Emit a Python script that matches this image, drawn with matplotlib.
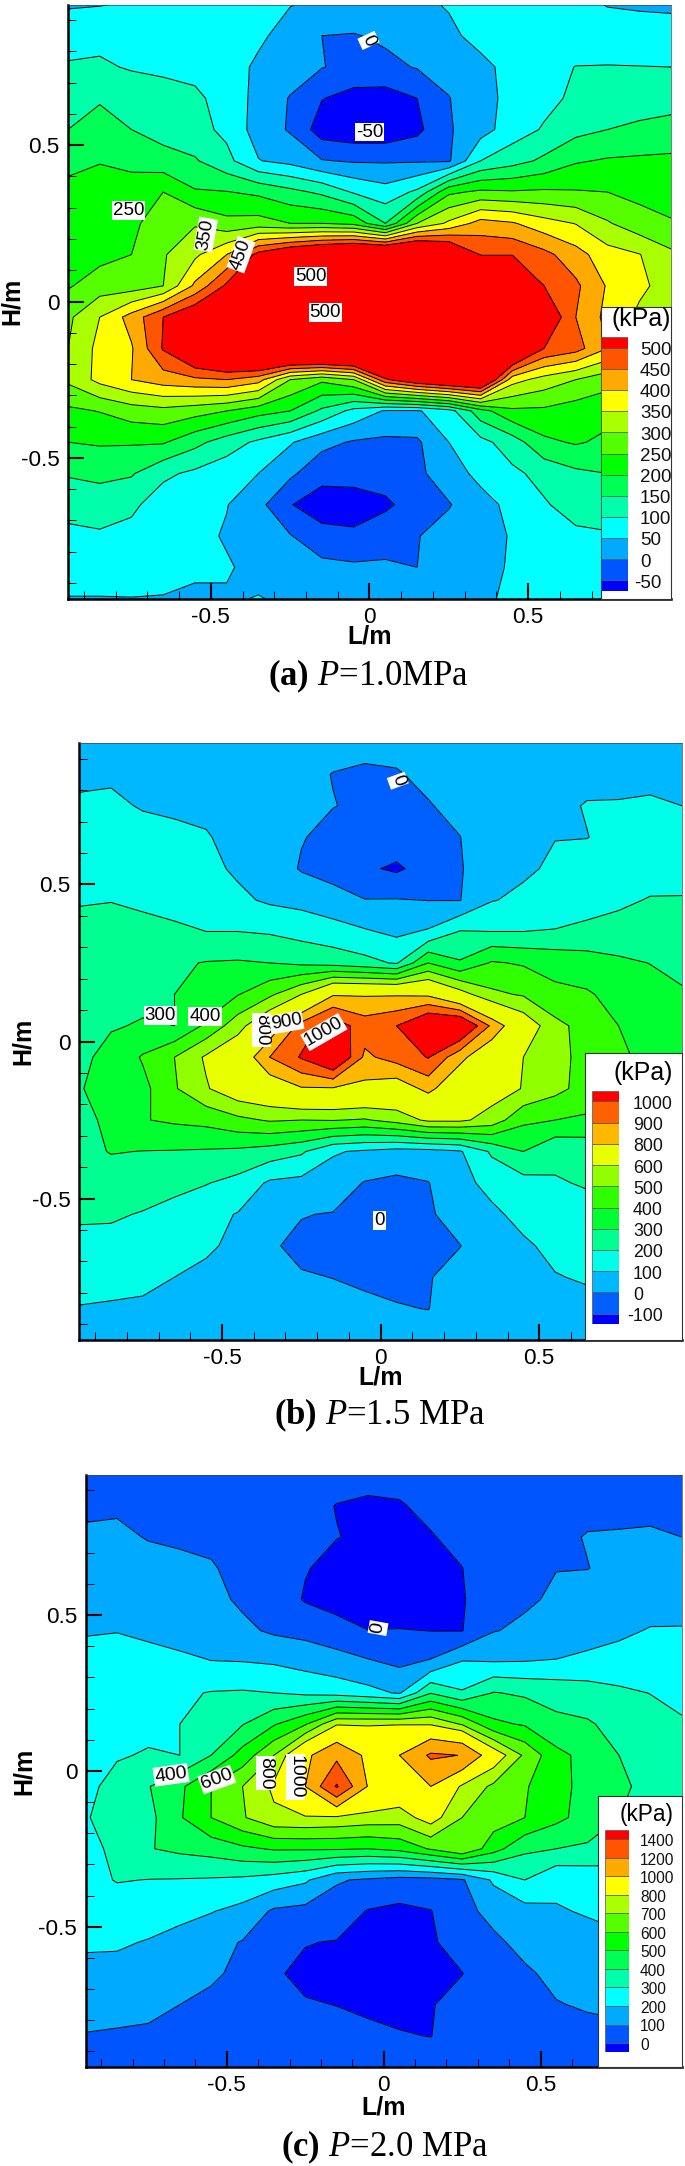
import numpy as np
import matplotlib
matplotlib.use('Agg')
import matplotlib.pyplot as plt

plt.rcParams['font.family'] = ['Liberation Sans', 'DejaVu Sans']
plt.rcParams['mathtext.fontset'] = 'custom'
plt.rcParams['mathtext.rm'] = 'Liberation Serif'
plt.rcParams['mathtext.it'] = 'Liberation Serif:italic'
plt.rcParams['mathtext.bf'] = 'Liberation Serif:bold'
plt.rcParams['contour.negative_linestyle'] = 'solid'

l_nodes = [-.95, -.85, -.75, -.65, -.55, -.45, -.35, -.25, -.15, -.05,
           .05, .15, .25, .35, .45, .55, .65, .75, .85, .95]
h_nodes = [.95, .85, .75, .65, .55, .45, .35, .25, .15, .05,
           -.05, -.15, -.25, -.35, -.45, -.55, -.65, -.75, -.85, -.95]

pressure_a = [
    [45, 48, 55, 62, 68, 70, 68, 52, 40, 35, 35, 42, 53, 60, 68, 72, 62, 48, 44, 42],
    [80, 85, 78, 72, 70, 72, 60, 28, 0, -3, 8, 25, 42, 62, 72, 75, 72, 72, 72, 70],
    [105, 108, 95, 88, 85, 75, 40, 25, 2, -15, -12, 3, 20, 40, 62, 85, 101, 102, 101, 100],
    [135, 145, 135, 125, 110, 80, 35, -3, -48, -68, -72, -50, -2, 38, 60, 85, 110, 120, 125, 130],
    [150, 170, 150, 130, 118, 88, 28, -5, -75, -85, -85, -62, -5, 30, 75, 105, 135, 150, 160, 168],
    [185, 197, 180, 170, 155, 115, 52, 35, 3, -5, -5, -5, -6, 100, 130, 160, 195, 205, 208, 210],
    [215, 225, 235, 250, 205, 202, 190, 165, 140, 95, 70, 110, 240, 260, 255, 258, 254, 250, 237, 225],
    [225, 235, 248, 255, 295, 265, 270, 250, 250, 235, 150, 300, 360, 420, 405, 370, 348, 305, 270, 255],
    [225, 235, 250, 295, 340, 400, 520, 580, 620, 650, 650, 660, 600, 497, 498, 465, 420, 370, 352, 310],
    [245, 275, 275, 300, 410, 510, 580, 650, 700, 720, 720, 720, 700, 650, 600, 500, 460, 395, 360, 330],
    [290, 350, 420, 500, 560, 620, 680, 720, 740, 760, 760, 760, 740, 700, 650, 560, 450, 385, 340, 310],
    [300, 365, 395, 505, 600, 660, 700, 730, 750, 760, 760, 760, 740, 700, 650, 500, 470, 400, 350, 310],
    [310, 365, 400, 425, 440, 450, 420, 300, 260, 300, 490, 560, 600, 620, 370, 330, 300, 270, 250, 240],
    [240, 252, 275, 285, 270, 250, 220, 200, 140, 85, 45, 45, 80, 180, 240, 240, 225, 215, 215, 215],
    [200, 205, 205, 205, 165, 125, 90, 55, 15, -5, -10, -8, 50, 85, 125, 190, 205, 190, 185, 185],
    [155, 165, 155, 110, 90, 70, 50, 10, -35, -30, -25, -10, 25, 65, 90, 115, 140, 150, 150, 150],
    [115, 118, 110, 75, 60, 52, 15, -48, -72, -75, -60, -25, -3, 30, 65, 95, 120, 125, 125, 125],
    [90, 95, 85, 75, 65, 45, 25, 3, -35, -40, -15, -2, 18, 40, 52, 75, 90, 95, 95, 95],
    [75, 75, 72, 65, 55, 55, 35, 20, 15, 8, 5, 0, 15, 35, 55, 65, 70, 70, 70, 70],
    [48, 48, 49, 48, 45, 45, 52, 42, 30, 28, 30, 30, 35, 45, 55, 55, 55, 55, 55, 55],
]
pressure_b = [
    [60, 60, 58, 55, 55, 52, 48, 40, 25, 15, 20, 30, 38, 45, 52, 58, 62, 62, 62, 62],
    [80, 85, 75, 70, 65, 55, 40, 20, -2, -8, -5, 15, 35, 45, 55, 65, 75, 80, 85, 80],
    [115, 120, 92, 82, 85, 75, 40, 20, 2, -12, -15, -4, 18, 42, 60, 80, 105, 105, 108, 100],
    [145, 150, 140, 125, 105, 78, 45, 5, -25, -40, -45, -40, -1, 40, 70, 98, 98, 125, 130, 135],
    [165, 170, 160, 145, 125, 85, 55, -8, -40, -85, -115, -60, -5, 40, 85, 115, 145, 160, 165, 170],
    [195, 198, 185, 170, 150, 120, 85, 70, 40, 3, 5, -2, -3, 95, 120, 145, 165, 185, 205, 205],
    [220, 225, 225, 215, 200, 200, 190, 165, 140, 110, 80, 110, 205, 200, 200, 205, 220, 230, 250, 250],
    [250, 265, 280, 285, 305, 310, 300, 280, 260, 230, 190, 400, 310, 410, 390, 370, 350, 320, 298, 275],
    [260, 270, 285, 300, 320, 395, 480, 600, 790, 790, 790, 780, 650, 520, 490, 420, 410, 370, 340, 310],
    [280, 295, 305, 300, 420, 560, 720, 940, 1060, 950, 1000, 1150, 1150, 880, 680, 530, 460, 400, 360, 320],
    [285, 320, 410, 500, 615, 700, 900, 1010, 1150, 880, 940, 1005, 830, 700, 600, 530, 470, 420, 370, 330],
    [295, 330, 370, 490, 590, 680, 720, 790, 790, 770, 730, 830, 700, 650, 595, 530, 460, 400, 350, 310],
    [280, 315, 395, 415, 430, 475, 510, 500, 505, 490, 540, 620, 620, 560, 420, 400, 385, 370, 340, 300],
    [270, 305, 298, 295, 290, 280, 255, 215, 110, 85, 60, 65, 90, 215, 300, 215, 230, 240, 250, 250],
    [245, 250, 240, 225, 205, 170, 85, 70, 50, -5, -20, -3, 70, 130, 165, 195, 205, 215, 225, 225],
    [215, 210, 195, 170, 130, 95, 60, 3, -4, -1, -10, -12, 40, 80, 130, 160, 180, 190, 195, 195],
    [170, 175, 165, 135, 110, 85, 8, -15, -15, -20, -20, -12, -2, 50, 85, 125, 160, 170, 170, 170],
    [140, 145, 130, 100, 85, 65, 35, 5, -1, -8, -12, -5, 30, 50, 75, 95, 110, 120, 120, 120],
    [95, 85, 80, 72, 65, 55, 40, 25, 20, 10, 3, -1, 25, 40, 55, 65, 70, 75, 75, 75],
    [70, 68, 65, 60, 55, 50, 45, 40, 35, 30, 28, 25, 30, 40, 48, 52, 55, 58, 60, 60],
]
pressure_c = [
    [62, 60, 58, 56, 55, 52, 48, 40, 25, 16, 20, 30, 38, 46, 52, 58, 62, 64, 62, 62],
    [82, 85, 76, 70, 65, 55, 42, 20, -2, -8, -5, 15, 34, 46, 56, 66, 76, 82, 85, 80],
    [116, 122, 94, 84, 85, 75, 42, 20, 2, -12, -15, -4, 18, 42, 60, 80, 105, 106, 108, 100],
    [145, 150, 140, 125, 106, 78, 45, 5, -25, -40, -45, -40, -1, 40, 70, 98, 98, 125, 130, 135],
    [165, 170, 160, 145, 125, 85, 55, -8, -40, -80, -90, -60, -5, 40, 85, 115, 145, 160, 165, 170],
    [195, 198, 185, 170, 150, 120, 85, 70, 40, 2, 6, -2, -3, 95, 120, 145, 165, 185, 205, 205],
    [222, 226, 226, 216, 202, 200, 190, 165, 140, 110, 80, 110, 205, 200, 201, 205, 220, 230, 250, 250],
    [250, 265, 280, 285, 305, 310, 300, 280, 260, 230, 190, 395, 310, 405, 385, 370, 350, 320, 298, 275],
    [260, 270, 285, 300, 320, 395, 490, 590, 790, 790, 795, 790, 690, 520, 490, 420, 410, 370, 340, 310],
    [280, 295, 305, 300, 400, 540, 700, 960, 1150, 960, 1000, 1230, 1195, 880, 680, 530, 465, 400, 360, 320],
    [285, 320, 395, 480, 600, 700, 820, 1000, 1420, 990, 900, 1000, 780, 680, 610, 530, 470, 420, 370, 330],
    [295, 330, 370, 490, 600, 690, 780, 790, 780, 760, 750, 850, 700, 650, 600, 525, 460, 400, 350, 310],
    [280, 315, 395, 420, 440, 480, 510, 510, 510, 500, 530, 610, 700, 540, 420, 400, 385, 370, 340, 300],
    [270, 305, 298, 295, 290, 280, 255, 215, 110, 85, 60, 65, 90, 215, 300, 215, 230, 240, 250, 250],
    [245, 250, 240, 225, 205, 170, 85, 70, 50, -5, -20, -3, 70, 130, 165, 195, 205, 215, 225, 225],
    [215, 210, 195, 170, 130, 95, 60, 3, -4, -1, -10, -12, 40, 80, 130, 160, 180, 190, 195, 195],
    [170, 175, 165, 135, 110, 85, 8, -15, -15, -20, -20, -12, -2, 50, 85, 125, 160, 170, 170, 170],
    [140, 145, 130, 100, 85, 65, 35, 5, -1, -8, -12, -5, 30, 50, 75, 95, 110, 120, 120, 120],
    [95, 85, 80, 72, 65, 55, 40, 25, 20, 10, 3, -1, 25, 40, 55, 65, 70, 75, 75, 75],
    [70, 68, 65, 60, 55, 50, 45, 40, 35, 30, 28, 25, 30, 40, 48, 52, 55, 58, 60, 60],
]

levels_a = [-50, 0, 50, 100, 150, 200, 250, 300, 350, 400, 450, 500]
levels_b = [-100, 0, 100, 200, 300, 400, 500, 600, 800, 900, 1000]
levels_c = [0, 100, 200, 300, 400, 500, 600, 700, 800, 1000, 1200, 1400]

colors_a = ['#0000ff', '#0055ff', '#00aaff', '#00ffff', '#00ffaa', '#00ff55', '#00ff00',
            '#55ff00', '#aaff00', '#ffff00', '#ffaa00', '#ff5500', '#ff0000']
colors_b = ['#0000ff', '#0060ff', '#00b8ff', '#00ffe8', '#00ff90', '#00ff30', '#30ff00',
            '#90ff00', '#e8ff00', '#ffb800', '#ff6000', '#ff0000']
colors_c = colors_a

# contour label text, L, H, rotation
labels_a = [('0', -.003, .835, -65), ('-50', 0, .542, 0), ('250', -.76, .29, 0), ('350', -.516, .214, 80),
            ('450', -.405, .15, 70), ('500', -.185, .081, 0), ('500', -.139, -.036, 0)]
labels_b = [('0', .054, .83, -70), ('300', -.694, .083, 0), ('400', -.554, .08, 0), ('800', -.375, .037, -90),
            ('900', -.297, .061, 10), ('1000', -.179, .03, 30), ('0', -.004, -.57, 0)]
labels_c = [('0', -.018, .458, 80), ('400', -.678, -.013, 8), ('600', -.532, -.028, 20),
            ('800', -.377, -.007, -90), ('1000', -.281, -.02, -90)]

W, H = 685, 2166
fig = plt.figure(figsize=(W / 100, H / 100), dpi=100)


def fx(x):
    return x / W


def fy(y):
    return 1 - y / H


def add_px_axes(x0, x1, y0, y1, **kw):
    return fig.add_axes([fx(x0), fy(y1), (x1 - x0) / W, (y1 - y0) / H], **kw)


def draw_field(frame, values, levels, colors, labels, label_size):
    ax = add_px_axes(*frame)
    z = np.array(values, dtype=float)
    ax.contourf(l_nodes, h_nodes, z, levels=levels, colors=colors, extend='both')
    ax.contour(l_nodes, h_nodes, z, levels=levels, colors='k', linewidths=.7)
    ax.set_xlim(-.95, .95)
    ax.set_ylim(-.95, .95)
    ax.set_xticks([-.5, 0, .5])
    ax.set_xticklabels(['-0.5', '0', '0.5'])
    ax.set_yticks([-.5, 0, .5])
    ax.set_yticklabels(['-0.5', '0', '0.5'])
    minor = [i / 10 for i in range(-9, 10) if i % 5 != 0]
    ax.set_xticks(minor, minor=True)
    ax.set_yticks(minor, minor=True)
    ax.tick_params(which='major', direction='in', length=11.5, width=1.5, labelsize=16.2, pad=6, zorder=5)
    ax.tick_params(which='minor', direction='in', length=6, width=.7)
    for s in ['left', 'bottom']:
        ax.spines[s].set_linewidth(1.8)
    for s in ['top', 'right']:
        ax.spines[s].set_linewidth(.5)
        ax.spines[s].set_color('#444444')
    for text, lx, hy, rot in labels:
        ax.text(lx, hy, text, fontsize=label_size, rotation=rot, ha='center', va='center',
                bbox=dict(boxstyle='square,pad=0.05', fc='white', ec='none'))


def draw_legend(box, swatch, label_x, label_y, levels, colors, size, title_size, title_xy):
    bx = add_px_axes(*box)
    bx.set_xticks([])
    bx.set_yticks([])
    for s in bx.spines.values():
        s.set_linewidth(.8)
        s.set_color('#333333')
    sw = add_px_axes(*swatch)
    n = len(colors)
    edges = [0] + [i + .5 for i in range(n - 1)]
    edges[-1] = n - 1.5
    tops = edges[1:] + [n - 1]
    for c, b, t in zip(colors, edges, tops):
        sw.bar(0, t - b, bottom=b, width=1, color=c, edgecolor='#555555', linewidth=.5)
    sw.set_xlim(-.5, .5)
    sw.set_ylim(0, n - 1)
    sw.axis('off')
    ys = np.linspace(label_y[1], label_y[0], len(levels))
    dash = .333 * size * 100 / 72
    for lev, y in zip(levels, ys):
        x = label_x - dash if lev < 0 else label_x
        fig.text(fx(x), fy(y), str(lev), fontsize=size, ha='left', va='center', color='#111111')
    fig.text(fx(title_xy[0]), fy(title_xy[1]), '(kPa)', fontsize=title_size, ha='right', va='center')


def draw_captions(cx, tick_label_y, cap_x, cap_y, hm_x, hm_y, letter, rest):
    fig.text(fx(cx), fy(tick_label_y), 'L/m', fontsize=18, fontweight='bold', ha='center', va='center')
    fig.text(fx(hm_x), fy(hm_y), 'H/m', fontsize=18, fontweight='bold', rotation=90, ha='center', va='center')
    fig.text(fx(cap_x), fy(cap_y), r'$\mathbf{(' + letter + r')}$ $\mathit{P}$' + rest, fontsize=25,
             family='Liberation Serif', ha='center', va='center')


# panel a
draw_field((68, 671, 4.5, 598.5), pressure_a, levels_a, colors_a, labels_a, 13.5)
draw_legend((600.7, 671, 306.7, 598.5), (600.7, 628, 337.3, 591), 640, (350.5, 583.3),
            levels_a, colors_a, 13.5, 17.9, (671, 319))
draw_captions(370, 636, 368, 676, 12, 301, 'a', '=1.0MPa')

# panel b
draw_field((79.3, 682, 743, 1340), pressure_b, levels_b, colors_b, labels_b, 13.5)
draw_legend((585, 682, 1052.7, 1340), (592.3, 619.3, 1090.7, 1324.3), 633, (1104.3, 1316.7),
            levels_b, colors_b, 12.8, 17.9, (672.7, 1072.7))
draw_captions(380.6, 1377.5, 380, 1415.6, 22.7, 1041, 'b', '=1.5 MPa')

# panel c
draw_field((85.7, 681.7, 1474.7, 2067), pressure_c, levels_c, colors_c, labels_c, 14)
draw_legend((598.3, 681.7, 1796, 2067), (605, 628.7, 1830, 2052.3), 640, (1842, 2045),
            levels_c, colors_c, 11.2, 16.3, (674, 1814))
draw_captions(383.7, 2107.5, 384.6, 2147, 24, 1771, 'c', '=2.0 MPa')

fig.savefig('out.png', dpi=100)
